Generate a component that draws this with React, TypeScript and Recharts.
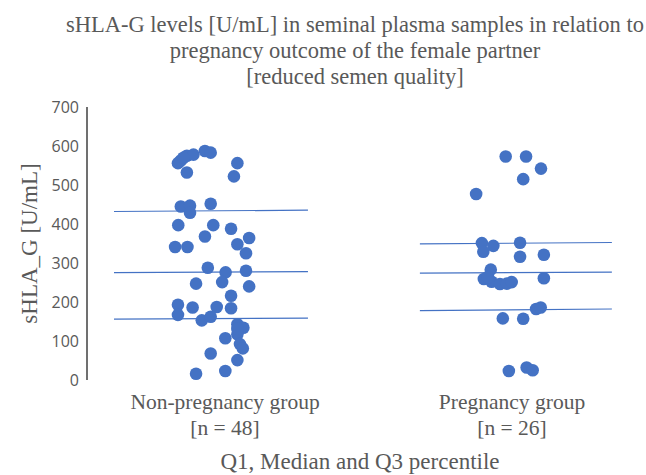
import React from "react";
import { ScatterChart, Scatter, XAxis, YAxis } from "recharts";

const groupNames = ["Non-pregnancy group", "Pregnancy group"];
const groupCounts = ["[n = 48]", "[n = 26]"];
const groupCenters = [1, 2];
const yTicks = [0, 100, 200, 300, 400, 500, 600, 700];

// jittered x position + sHLA-G value for each sample
const nonPregnancyJitter = [
  0.846, 0.867, 0.89, 0.93, 0.95, 1.043, 0.867, 1.031, 0.846, 0.878, 0.878, 0.95, 0.837, 0.959, 1.021, 0.93,
  1.084, 0.826, 0.869, 1.043, 1.073, 0.94, 1.002, 1.073, 0.899, 0.99, 1.084, 1.021, 0.836, 0.887, 0.971, 1.021,
  0.836, 0.919, 0.95, 1.043, 1.064, 1.043, 1.001, 1.052, 1.062, 0.95, 1.043, 1.001, 0.899, 0.836, 0.855, 1.043,
];
const nonPregnancyValues = [
  563, 575, 578, 587, 583, 556, 532, 522, 445, 447, 429, 452, 397, 397, 388, 368, 364, 341, 341, 348, 325, 288,
  276, 280, 247, 251, 240, 216, 193, 186, 187, 184, 167, 153, 162, 143, 134, 117, 107, 92, 81, 68, 51, 23, 16,
  556, 570, 131,
];
const pregnancyJitter = [
  1.978, 2.049, 2.101, 2.039, 1.875, 1.895, 1.935, 1.9, 2.028, 2.028, 2.111, 1.926, 1.902, 1.929, 1.958, 1.982,
  1.999, 2.111, 2.084, 2.1, 1.968, 2.039, 1.989, 2.051, 2.072, 1.916,
];
const pregnancyValues = [
  573, 573, 542, 515, 477, 351, 344, 329, 352, 316, 321, 283, 259, 252, 246, 247, 251, 261, 182, 186, 158, 157,
  23, 32, 25, 264,
];

// quartile lines: [start, end] x and values
const nonPregnancyLineX = [0.613, 1.289];
const pregnancyLineX = [1.679, 2.348];
const nonPregnancyQ1 = [156, 158.5];
const nonPregnancyMedian = [275.5, 278];
const nonPregnancyQ3 = [432, 435.5];
const pregnancyQ1 = [178, 182];
const pregnancyMedian = [274, 276.5];
const pregnancyQ3 = [349, 352.5];

const BLUE = "#4472C4";
const GREY = "#595959";
const SERIF = "'Liberation Serif', 'Times New Roman', serif";

const toPoints = (xs: number[], ys: number[]) => xs.map((x, i) => ({ x, y: ys[i] }));

const nonPregnancyPoints = toPoints(nonPregnancyJitter, nonPregnancyValues);
const pregnancyPoints = toPoints(pregnancyJitter, pregnancyValues);
const quartileLines = [
  toPoints(nonPregnancyLineX, nonPregnancyQ1),
  toPoints(nonPregnancyLineX, nonPregnancyMedian),
  toPoints(nonPregnancyLineX, nonPregnancyQ3),
  toPoints(pregnancyLineX, pregnancyQ1),
  toPoints(pregnancyLineX, pregnancyMedian),
  toPoints(pregnancyLineX, pregnancyQ3),
];

const Dot = (props: any) => <circle cx={props.cx} cy={props.cy} r={6.3} fill={BLUE} />;
const NoDot = () => <g />;

const GroupTick = (props: any) => {
  const { x, y, payload } = props;
  const i = groupCenters.indexOf(payload.value);
  if (i < 0) return <g />;
  return (
    <text x={x} y={y} textAnchor="middle" fill={GREY} fontFamily={SERIF} fontSize={21.5}>
      <tspan x={x} dy={21}>{groupNames[i]}</tspan>
      <tspan x={x} dy={26}>{groupCounts[i]}</tspan>
    </text>
  );
};

export default function App() {
  return (
    <div style={{ position: "absolute", left: 0, top: 0, width: 646, height: 475, background: "#fff" }}>
      <div
        style={{
          position: "absolute",
          left: 0,
          top: 12,
          width: 710,
          textAlign: "center",
          fontFamily: SERIF,
          fontSize: 22.5,
          lineHeight: "26px",
          color: GREY,
        }}
      >
        sHLA-G levels [U/mL] in seminal plasma samples in relation to
        <br />
        pregnancy outcome of the female partner
        <br />
        [reduced semen quality]
      </div>
      <ScatterChart width={646} height={475} margin={{ top: 107, right: 6, bottom: 35, left: 0 }}>
        <XAxis
          type="number"
          dataKey="x"
          domain={[0.519, 2.446]}
          allowDataOverflow
          ticks={groupCenters}
          axisLine={false}
          tickLine={false}
          height={60}
          tick={<GroupTick />}
        />
        <YAxis
          type="number"
          dataKey="y"
          domain={[0, 700]}
          ticks={yTicks}
          width={87}
          axisLine={{ stroke: "#404040", strokeWidth: 1.5 }}
          tickLine={false}
          tick={{ fill: GREY, fontSize: 16, fontFamily: "'Open Sans', 'Liberation Sans', sans-serif" }}
          label={{
            value: "sHLA_G [U/mL]",
            angle: -90,
            position: "insideLeft",
            offset: 29,
            style: { textAnchor: "middle", fill: GREY, fontFamily: SERIF, fontSize: 23 },
          }}
        />
        {quartileLines.map((line, i) => (
          <Scatter
            key={i}
            data={line}
            line={{ stroke: BLUE, strokeWidth: 1.2 }}
            shape={NoDot}
            isAnimationActive={false}
          />
        ))}
        <Scatter data={nonPregnancyPoints} shape={Dot} isAnimationActive={false} />
        <Scatter data={pregnancyPoints} shape={Dot} isAnimationActive={false} />
      </ScatterChart>
      <div
        style={{
          position: "absolute",
          left: 0,
          top: 449,
          width: 720,
          textAlign: "center",
          fontFamily: SERIF,
          fontSize: 23,
          lineHeight: "26px",
          color: GREY,
        }}
      >
        Q1, Median and Q3 percentile
      </div>
    </div>
  );
}
